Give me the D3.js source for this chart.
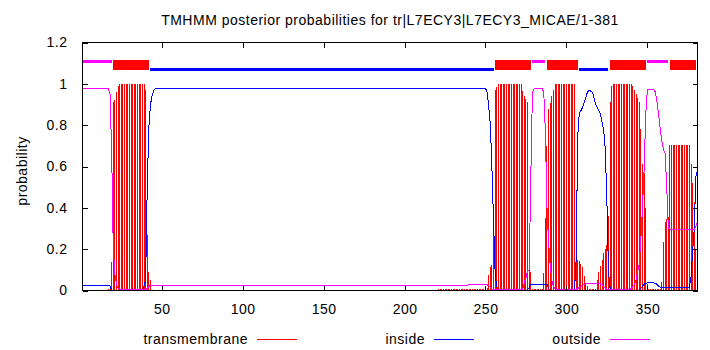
<!DOCTYPE html>
<html>
<head>
<meta charset="utf-8">
<script src="https://cdn.jsdelivr.net/npm/d3@7"></script>
<style>
  body { margin: 0; background: #fff; }
  svg { display: block; font-family: "Liberation Sans", Arial, sans-serif; }
</style>
</head>
<body>
<svg id="chart" width="710" height="350"></svg>
<script>
const tmRuns = [
  [1, 16, 0.004], [17, 17, 0.008], [18, 18, 0.02], [19, 19, 0.14], [20, 20, 0.91],
  [21, 21, 0.92], [22, 22, 0.96], [23, 23, 0.99], [24, 39, 1.0], [40, 40, 0.97],
  [41, 41, 0.27], [42, 42, 0.09], [43, 43, 0.05], [44, 220, 0.001], [221, 250, 0.006],
  [251, 251, 0.01], [252, 252, 0.075], [253, 253, 0.115], [254, 254, 0.125], [255, 255, 0.33],
  [256, 256, 0.97], [257, 257, 0.985], [258, 272, 1.0], [273, 273, 0.967], [274, 274, 0.943],
  [275, 275, 0.927], [276, 276, 0.91], [277, 277, 0.29], [278, 278, 0.09], [279, 285, 0.008],
  [286, 286, 0.085], [287, 287, 0.35], [288, 288, 0.70], [289, 289, 0.88], [290, 290, 0.905],
  [291, 291, 0.94], [292, 292, 0.97], [293, 305, 0.997], [306, 306, 0.15], [307, 307, 0.148],
  [308, 308, 0.145], [309, 309, 0.13], [310, 310, 0.115], [311, 311, 0.07], [312, 312, 0.035],
  [313, 313, 0.02], [314, 318, 0.006], [319, 319, 0.05], [320, 320, 0.09], [321, 321, 0.12],
  [322, 322, 0.148], [323, 323, 0.18], [324, 324, 0.2], [325, 325, 0.22], [326, 326, 0.36],
  [327, 327, 0.91], [328, 328, 0.99], [329, 340, 1.0], [341, 341, 0.99], [342, 342, 0.97],
  [343, 343, 0.95], [344, 344, 0.93], [345, 345, 0.91], [346, 346, 0.78], [347, 347, 0.61],
  [348, 348, 0.57], [349, 349, 0.40], [350, 350, 0.03], [351, 358, 0.005], [359, 359, 0.04],
  [360, 360, 0.236], [361, 361, 0.33], [362, 362, 0.345], [363, 363, 0.357], [364, 376, 0.703],
  [377, 377, 0.61], [378, 378, 0.52], [379, 379, 0.43], [380, 380, 0.20], [381, 381, 0.10],
];

const insideRuns = [
  [1, 18, 0.023], [19, 38, 0.002], [39, 39, 0.02], [40, 40, 0.05], [41, 41, 0.50],
  [42, 42, 0.79], [43, 43, 0.90], [44, 44, 0.943], [45, 45, 0.967], [46, 250, 0.978],
  [251, 251, 0.96], [252, 252, 0.89], [253, 253, 0.80], [254, 254, 0.59], [255, 255, 0.33],
  [256, 256, 0.075], [257, 257, 0.02], [258, 276, 0.002], [277, 277, 0.015], [278, 288, 0.031],
  [289, 289, 0.01], [290, 305, 0.002], [306, 306, 0.148], [307, 307, 0.75], [308, 308, 0.86],
  [309, 309, 0.87], [310, 310, 0.886], [311, 311, 0.91], [312, 312, 0.935], [313, 313, 0.96],
  [314, 314, 0.97], [315, 315, 0.965], [316, 316, 0.96], [317, 317, 0.935], [318, 318, 0.90],
  [319, 319, 0.886], [320, 320, 0.87], [321, 321, 0.854], [322, 322, 0.814], [323, 323, 0.78],
  [324, 324, 0.685], [325, 325, 0.44], [326, 326, 0.09], [327, 327, 0.01], [328, 345, 0.002],
  [346, 346, 0.01], [347, 347, 0.02], [348, 348, 0.03], [349, 349, 0.035], [350, 354, 0.037],
  [355, 355, 0.035], [356, 356, 0.03], [357, 357, 0.02], [358, 376, 0.015], [377, 377, 0.067],
  [378, 378, 0.19], [379, 379, 0.30], [380, 380, 0.55], [381, 381, 0.58],
];

const outsideRuns = [
  [1, 17, 0.978], [18, 18, 0.95], [19, 19, 0.68], [20, 20, 0.21], [21, 21, 0.08],
  [22, 22, 0.03], [23, 23, 0.01], [24, 40, 0.004], [41, 41, 0.01], [42, 42, 0.02],
  [43, 239, 0.025], [240, 250, 0.031], [251, 251, 0.028], [252, 252, 0.022], [253, 253, 0.015],
  [254, 254, 0.008], [255, 273, 0.003], [274, 274, 0.04], [275, 275, 0.06], [276, 276, 0.094],
  [277, 277, 0.10], [278, 278, 0.55], [279, 279, 0.96], [280, 285, 0.977], [286, 286, 0.96],
  [287, 287, 0.77], [288, 288, 0.40], [289, 289, 0.236], [290, 290, 0.115], [291, 291, 0.05],
  [292, 292, 0.02], [293, 293, 0.008], [294, 305, 0.003], [306, 306, 0.006], [307, 307, 0.01],
  [308, 308, 0.015], [309, 309, 0.02], [310, 310, 0.025], [311, 311, 0.03], [312, 320, 0.034],
  [321, 321, 0.032], [322, 322, 0.028], [323, 323, 0.02], [324, 324, 0.012], [325, 325, 0.006],
  [326, 339, 0.003], [340, 340, 0.01], [341, 341, 0.02], [342, 342, 0.03], [343, 343, 0.05],
  [344, 344, 0.09], [345, 345, 0.13], [346, 346, 0.25], [347, 347, 0.40], [348, 348, 0.58],
  [349, 349, 0.85], [350, 350, 0.97], [351, 354, 0.972], [355, 355, 0.96], [356, 356, 0.91],
  [357, 357, 0.85], [358, 358, 0.78], [359, 359, 0.72], [360, 360, 0.68], [361, 361, 0.665],
  [362, 362, 0.50], [363, 363, 0.30], [364, 379, 0.297], [380, 380, 0.31], [381, 381, 0.33],
];

// predicted topology (Viterbi path) drawn above the curves
const topology = [
  ['outside', 1, 19], ['tm', 20, 42], ['inside', 43, 255], ['tm', 256, 278],
  ['outside', 279, 287], ['tm', 288, 307], ['inside', 308, 326], ['tm', 327, 349],
  ['outside', 350, 363], ['tm', 364, 380],
];

const xTicks = [50, 100, 150, 200, 250, 300, 350];
const yTicks = [0, 0.2, 0.4, 0.6, 0.8, 1, 1.2];
const legendItems = [
  {label: 'transmembrane', color: '#ff0000'},
  {label: 'inside', color: '#0000ff'},
  {label: 'outside', color: '#ff00ff'},
];
const seqLength = 381;
const titleText = 'TMHMM posterior probabilities for tr|L7ECY3|L7ECY3_MICAE/1-381';

// turn the runs into one value per residue
const expandRuns = (runs) => runs.flatMap(([from, to, value]) =>
  d3.range(from, to + 1).map((pos) => ({pos: pos, value: value})));

const tmData = expandRuns(tmRuns);
const insideData = expandRuns(insideRuns);
const outsideData = expandRuns(outsideRuns);

const svg = d3.select('#chart')
  .style('font-size', '14px')
  .style('letter-spacing', '0.5px');
const plotLeft = 82.5, plotRight = 697.5, plotTop = 42.5, plotBottom = 290.5;

const x = d3.scaleLinear([1, seqLength], [plotLeft, plotRight]);
const y = d3.scaleLinear([0, 1.2], [plotBottom, plotTop]);

svg.append('text')
  .attr('x', (plotLeft + plotRight) / 2)
  .attr('y', 25)
  .attr('text-anchor', 'middle')
  .text(titleText);

// impulses for the transmembrane probability
svg.append('g')
  .attr('stroke', '#ff0000')
  .attr('shape-rendering', 'crispEdges')
  .selectAll('line')
  .data(tmData)
  .join('line')
    .attr('x1', (d) => x(d.pos))
    .attr('x2', (d) => x(d.pos))
    .attr('y1', y(0))
    .attr('y2', (d) => y(d.value));

const line = d3.line().x((d) => x(d.pos)).y((d) => y(d.value));

svg.append('path')
  .datum(insideData)
  .attr('fill', 'none')
  .attr('stroke', '#0000ff')
  .attr('shape-rendering', 'crispEdges')
  .attr('d', line);

svg.append('path')
  .datum(outsideData)
  .attr('fill', 'none')
  .attr('stroke', '#ff00ff')
  .attr('shape-rendering', 'crispEdges')
  .attr('d', line);

// topology bars
const topo = svg.append('g').attr('shape-rendering', 'crispEdges');
topology.filter((d) => d[0] === 'tm').forEach(([, from, to]) => {
  topo.append('rect')
    .attr('x', x(from))
    .attr('y', y(1.1155))
    .attr('width', x(to) - x(from))
    .attr('height', y(1.067) - y(1.1155))
    .attr('fill', '#ff0000');
});
topology.filter((d) => d[0] !== 'tm').forEach(([kind, from, to]) => {
  const level = kind === 'inside' ? 1.07 : 1.11;
  topo.append('line')
    .attr('x1', x(from))
    .attr('x2', x(to))
    .attr('y1', y(level))
    .attr('y2', y(level))
    .attr('stroke', kind === 'inside' ? '#0000ff' : '#ff00ff')
    .attr('stroke-width', 3);
});

// frame with inward ticks, mirrored on top and right
const axes = svg.append('g').attr('shape-rendering', 'crispEdges');
const tickLen = 5;

axes.append('g')
  .attr('transform', `translate(0,${plotBottom})`)
  .call(d3.axisBottom(x).tickValues(xTicks).tickSize(-tickLen).tickPadding(tickLen + 9))
  .call((g) => g.select('.domain').remove());
axes.append('g')
  .attr('transform', `translate(0,${plotTop})`)
  .call(d3.axisTop(x).tickValues(xTicks).tickSize(-tickLen).tickFormat(''))
  .call((g) => g.select('.domain').remove());
axes.append('g')
  .attr('transform', `translate(${plotLeft},0)`)
  .call(d3.axisLeft(y).tickValues(yTicks).tickSize(-tickLen).tickPadding(tickLen + 10)
    .tickFormat((d) => String(d)))
  .call((g) => g.select('.domain').remove());
axes.append('g')
  .attr('transform', `translate(${plotRight},0)`)
  .call(d3.axisRight(y).tickValues(yTicks).tickSize(-tickLen).tickFormat(''))
  .call((g) => g.select('.domain').remove());

axes.selectAll('.tick line').attr('stroke', '#000');
axes.selectAll('.tick text')
  .attr('fill', '#000')
  .style('font-family', '"Liberation Sans", Arial, sans-serif')
  .style('font-size', '14px');

axes.append('rect')
  .attr('x', plotLeft)
  .attr('y', plotTop)
  .attr('width', plotRight - plotLeft)
  .attr('height', plotBottom - plotTop)
  .attr('fill', 'none')
  .attr('stroke', '#000');

svg.append('text')
  .attr('transform', `translate(27,171) rotate(-90)`)
  .attr('text-anchor', 'middle')
  .text('probability');

// legend along the bottom
const legendX = [248, 425, 601];
const legend = svg.append('g');
legendItems.forEach((item, i) => {
  legend.append('text')
    .attr('x', legendX[i])
    .attr('y', 344)
    .attr('text-anchor', 'end')
    .text(item.label);
  legend.append('line')
    .attr('x1', legendX[i] + 9)
    .attr('x2', legendX[i] + 49)
    .attr('y1', 339.5)
    .attr('y2', 339.5)
    .attr('stroke', item.color)
    .attr('shape-rendering', 'crispEdges');
});
</script>
</body>
</html>
